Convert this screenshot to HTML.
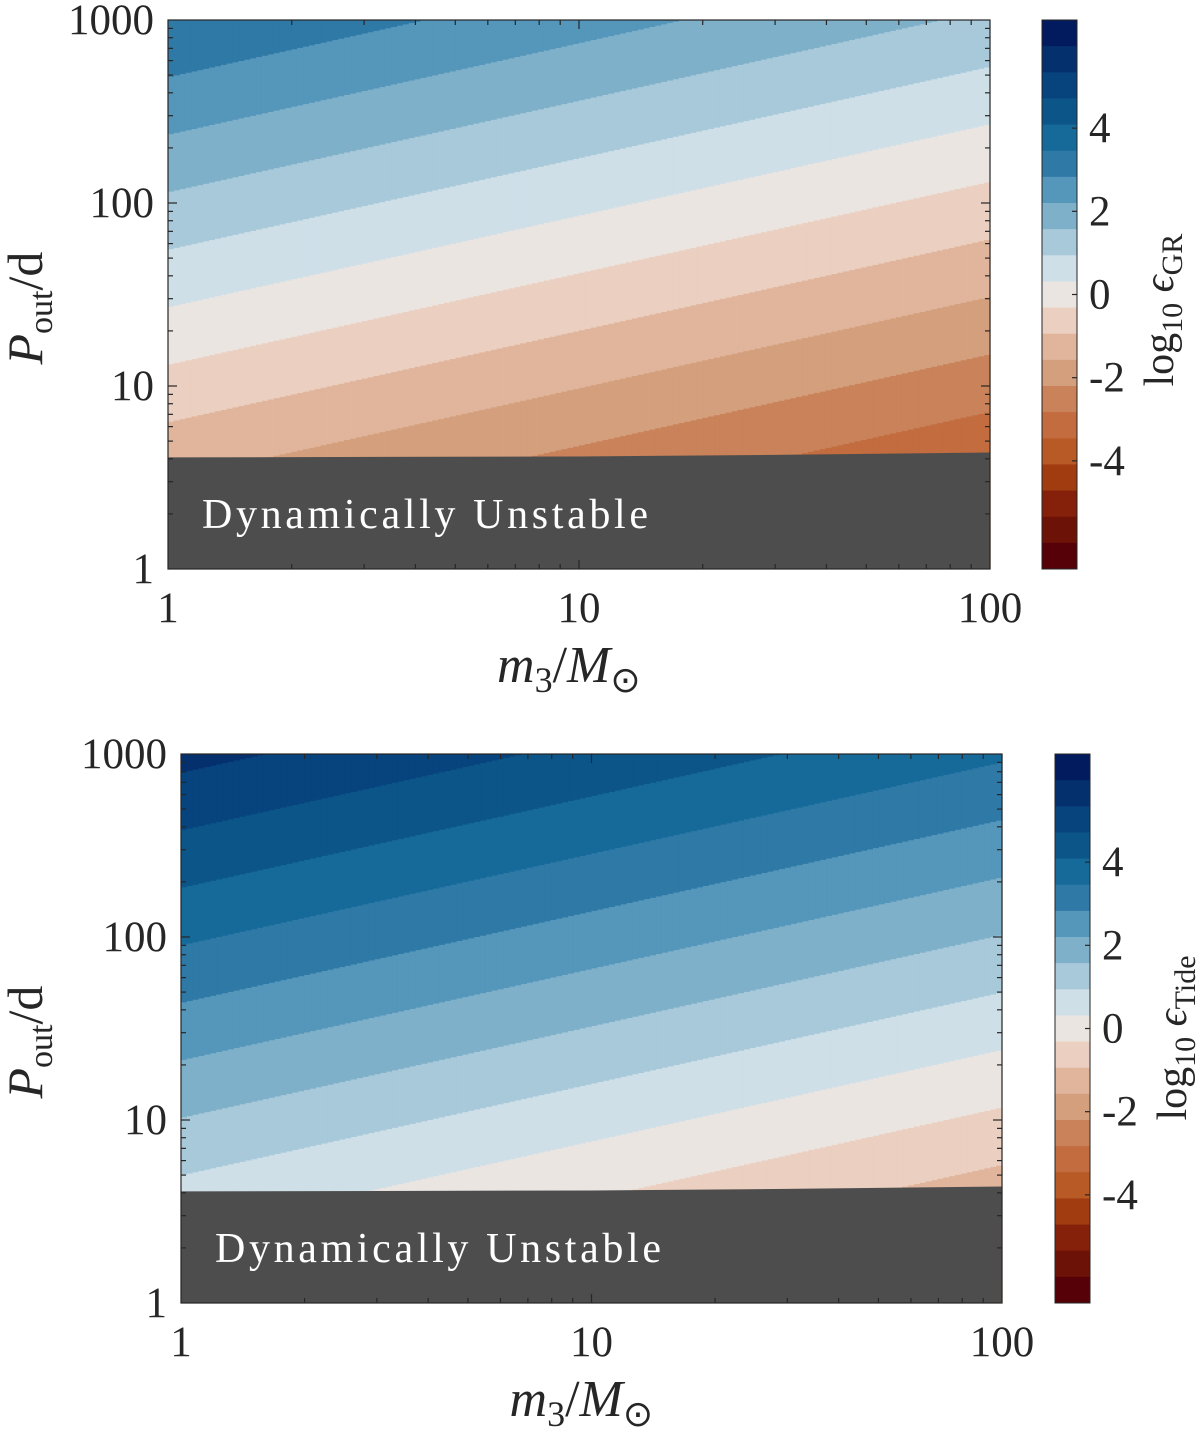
<!DOCTYPE html>
<html><head><meta charset="utf-8">
<style>
html,body{margin:0;padding:0;background:#fff;}
svg{display:block;font-family:"Liberation Serif",serif;}
</style></head>
<body>
<svg id="fig" width="1200" height="1431" viewBox="0 0 1200 1431" xmlns="http://www.w3.org/2000/svg"></svg>
<script>
// ---- data ----
const bandColors = ["#011b5e","#04306e","#07437d","#0c5589","#166a9a","#2e79a6","#5596bb","#7fb0c9","#a8c9da","#cfdfe8","#ebe5e1","#ebcfc0","#e0b59c","#d49f7c","#c98259","#c26c3f","#b75a26","#a03c10","#85200a","#6c1207","#560008"];
const levelRange = [-6.6, 6.6];
const cbTickValues = [4, 2, 0, -2, -4];
const cbTickLabels = ["4", "2", "0", "-2", "-4"];
const xTickValues = [1, 10, 100];
const xTickLabels = ["1", "10", "100"];
const yTickValues = [1, 10, 100, 1000];
const yTickLabels = ["1", "10", "100", "1000"];
// log10 eps = offset + mSlope*log10(m3) + pSlope*log10(Pout)
const gradientGR = [-2.545, -1.0, 2.0];
const gradientTide = [-0.45, -1.0, 2.0];
// stability limit (Pout in days) at masses
const stabMass = [1, 10, 30, 100];
const stabPeriod = [4.07, 4.12, 4.2, 4.33];

const NS = "http://www.w3.org/2000/svg";
const svg = document.getElementById("fig");
function mk(tag, attrs, parent) {
  const e = document.createElementNS(NS, tag);
  for (const k in attrs) e.setAttribute(k, attrs[k]);
  (parent || svg).appendChild(e);
  return e;
}

function panel(cfg) {
  const {L, R, T, B, cbL, cbR, grad, sub, tag} = cfg;
  const g = mk("g", {});
  
  
  const xS = v => L + Math.log10(v) / 2 * (R - L);
  const yS = v => B - Math.log10(v) / 3 * (B - T);
  const nb = bandColors.length;
  const bw = (levelRange[1] - levelRange[0]) / nb;
  const heat = mk("g", {}, g);
  
  
  const ncol = 140;
  const colW = (R - L) / ncol;
  for (let c = 0; c < ncol; c++) {
    const lm = (c + 0.5) / ncol * 2;
    for (let k = 0; k < nb; k++) {
      const hi = levelRange[1] - k * bw, lo = hi - bw;
      let pTop = (hi - grad[0] - grad[1] * lm) / grad[2];
      let pBot = (lo - grad[0] - grad[1] * lm) / grad[2];
      if (k === 0) pTop = 10; if (k === nb - 1) pBot = -10;
      pTop = Math.min(pTop, 3); pBot = Math.max(pBot, 0);
      if (pTop <= pBot) continue;
      const r = mk("rect", {x: (L + c * colW).toFixed(2), y: yS(Math.pow(10, pTop)).toFixed(2),
        width: (colW + 0.6).toFixed(2), height: (yS(Math.pow(10, pBot)) - yS(Math.pow(10, pTop)) + 0.4).toFixed(2), fill: bandColors[k]}, heat);
      
      
    }
  }
  let pts = [];
  for (let i = 0; i < stabMass.length; i++) pts.push(xS(stabMass[i]).toFixed(1) + "," + yS(stabPeriod[i]).toFixed(1));
  pts.push(R + "," + B, L + "," + B);
  const un = mk("polygon", {points: pts.join(" "), fill: "#4d4d4d"}, g);
  
  
  const ut = mk("text", {x: L + 34, y: yS(2) + 14, fill: "#fff", "font-size": 42, textLength: 446}, g);
  ut.textContent = "Dynamically Unstable";
  
  
  const fr = mk("rect", {x: L, y: T, width: R - L, height: B - T, fill: "none", stroke: "#262626", "stroke-width": 1.2}, g);
  
  
  const tk = mk("g", {stroke: "#262626", "stroke-width": 1.2}, g);
  
  
  for (let d = 0; d < 2; d++) for (let m = 1; m < 10; m++) {
    const v = m * Math.pow(10, d); if (v === 1) continue;
    const x = xS(v), len = m === 1 ? 9 : 5;
    mk("line", {x1: x, x2: x, y1: B, y2: B - len}, tk);
    mk("line", {x1: x, x2: x, y1: T, y2: T + len}, tk);
  }
  for (let d = 0; d < 3; d++) for (let m = 1; m < 10; m++) {
    const v = m * Math.pow(10, d); if (v === 1) continue;
    const y = yS(v), len = m === 1 ? 9 : 5;
    mk("line", {x1: L, x2: L + len, y1: y, y2: y}, tk);
    mk("line", {x1: R, x2: R - len, y1: y, y2: y}, tk);
  }
  xTickValues.forEach((v, i) => {
    const t = mk("text", {x: xS(v), y: B + 53, "text-anchor": "middle", "font-size": 43, fill: "#262626"}, g);
    t.textContent = xTickLabels[i];
    
    
  });
  yTickValues.forEach((v, i) => {
    const t = mk("text", {x: L - 14, y: yS(v) + 14, "text-anchor": "end", "font-size": 43, fill: "#262626"}, g);
    t.textContent = yTickLabels[i];
    
    
  });
  const xl = mk("text", {x: (L + R) / 2 - 82, y: B + 113, "font-size": 52, fill: "#262626"}, g);
  xl.innerHTML = '<tspan font-style="italic">m</tspan><tspan font-size="36" dy="10">3</tspan><tspan dy="-10">/</tspan><tspan font-style="italic">M</tspan><tspan font-size="36" dy="10">⊙</tspan>';
  
  
  const yl = mk("text", {transform: "translate(42," + ((T + B) / 2 + 70) + ") rotate(-90)", "font-size": 50, fill: "#262626"}, g);
  yl.innerHTML = '<tspan font-style="italic">P</tspan><tspan font-size="34" dy="10">out</tspan><tspan dy="-10">/d</tspan>';
  
  
  const cb = mk("g", {}, g);
  
  
  const cbY = v => T + (levelRange[1] - v) / (levelRange[1] - levelRange[0]) * (B - T);
  for (let k = 0; k < nb; k++) {
    const hi = levelRange[1] - k * bw;
    const r = mk("rect", {x: cbL, y: cbY(hi).toFixed(2), width: cbR - cbL, height: (cbY(hi - bw) - cbY(hi) + 0.5).toFixed(2), fill: bandColors[k]}, cb);
    
    
  }
  mk("rect", {x: cbL, y: T, width: cbR - cbL, height: B - T, fill: "none", stroke: "#262626", "stroke-width": 1}, cb);
  cbTickValues.forEach((v, i) => {
    const y = cbY(v);
    mk("line", {x1: cbR, x2: cbR - 5, y1: y, y2: y, stroke: "#262626", "stroke-width": 1.2}, cb);
    const t = mk("text", {x: cbR + 12, y: y + 14, "font-size": 43, fill: "#262626"}, cb);
    t.textContent = cbTickLabels[i];
    
    
  });
  const cl = mk("text", {transform: "translate(" + (cbR + 96) + "," + ((T + B) / 2 + 92) + ") rotate(-90)", "font-size": 42, fill: "#262626"}, cb);
  cl.innerHTML = 'log<tspan font-size="30" dy="9">10</tspan><tspan dy="-9"> </tspan><tspan font-style="italic">ϵ</tspan><tspan font-size="30" dy="9">' + sub + '</tspan>';
  
  
}

panel({L: 168, R: 990, T: 20, B: 569, cbL: 1042, cbR: 1077, grad: gradientGR, sub: "GR", tag: "gr"});
panel({L: 181, R: 1002, T: 754, B: 1303, cbL: 1055, cbR: 1090, grad: gradientTide, sub: "Tide", tag: "tide"});
</script>
</body></html>
